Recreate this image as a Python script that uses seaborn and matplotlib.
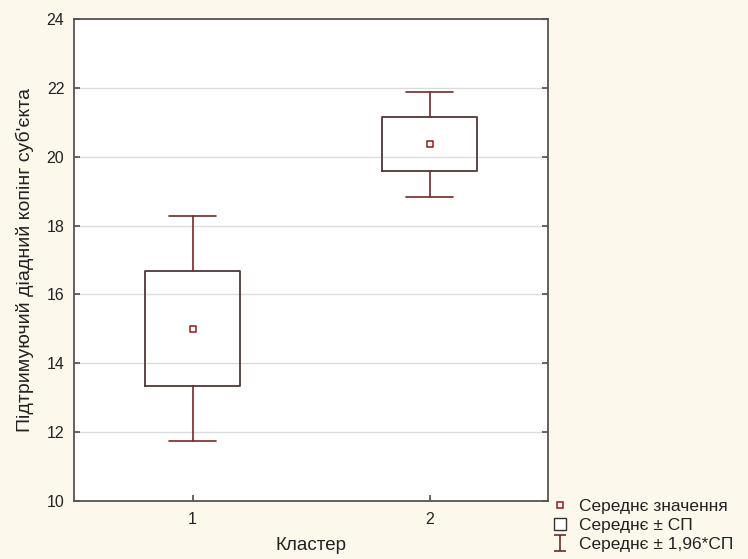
import numpy as np
import pandas as pd
import seaborn as sns
import matplotlib
matplotlib.use("Agg")
import matplotlib.pyplot as plt
from matplotlib.lines import Line2D
from matplotlib.patches import Rectangle
from matplotlib.path import Path

# Data
clusters = ["1", "2"]
means = [15.0, 20.36]
se = [1.67, 0.78]
y_ticks = [10, 12, 14, 16, 18, 20, 22, 24]
legend_labels = ["Середнє значення", "Середнє ± СП", "Середнє ± 1,96*СП"]
x_label = "Кластер"
y_label = "Підтримуючий діадний копінг суб'єкта"

sns.set_theme(style="white")
plt.rcParams['font.family'] = ['Liberation Sans', 'DejaVu Sans']

bg = "#fcf8ec"
box_col = "#4f3838"
whisk_col = "#6e2c2c"
mean_col = "#8b1e1e"

fig = plt.figure(figsize=(7.48, 5.59), dpi=100, facecolor=bg)
ax = fig.add_axes([0.099, 0.104, 0.634, 0.862])
ax.set_facecolor("white")

positions = np.arange(1, len(clusters) + 1)
stats = []
for lbl, m, s in zip(clusters, means, se):
    stats.append(dict(label=lbl, med=m, q1=m - s, q3=m + s,
                      whislo=m - 1.96 * s, whishi=m + 1.96 * s, fliers=[]))
ax.bxp(stats, positions=positions, widths=0.4, showfliers=False,
       boxprops=dict(color=box_col, linewidth=1.3),
       whiskerprops=dict(color=whisk_col, linewidth=1.2),
       capprops=dict(color=whisk_col, linewidth=1.2),
       medianprops=dict(linewidth=0), capwidths=0.2, zorder=3)

df = pd.DataFrame({"x": positions, "mean": means})
sns.scatterplot(data=df, x="x", y="mean", ax=ax, marker="s", s=22,
                facecolor="white", edgecolor=mean_col, linewidth=1.1, zorder=4)

ax.set_xlim(0.5, 2.5)
ax.set_ylim(10, 24)
ax.set_yticks(y_ticks)
ax.set_xticks(positions)
ax.set_xticklabels(clusters)
ax.yaxis.grid(True, color="#dcdcdc", linewidth=1.0, zorder=0)
ax.xaxis.grid(False)
ax.set_axisbelow(True)
for sp in ax.spines.values():
    sp.set_color("#555555")
    sp.set_linewidth(1.3)
ax.tick_params(axis="both", direction="in", length=4, color="#555555",
               labelsize=11.5, labelcolor="#222222", right=True, left=True, bottom=True)
ax.tick_params(axis="y", pad=7)
ax.tick_params(axis="x", pad=8)
ax.set_xlabel(x_label, fontsize=13.5, color="#222222", labelpad=7)
ax.set_ylabel(y_label, fontsize=14, color="#222222", labelpad=9)

# Legend
ibeam = Path([(-0.7, 1), (0.7, 1), (0, 1), (0, -1), (-0.7, -1), (0.7, -1)],
             [Path.MOVETO, Path.LINETO, Path.MOVETO, Path.LINETO, Path.MOVETO, Path.LINETO])
h1 = Line2D([], [], marker="s", linestyle="none", markersize=5,
            markerfacecolor="white", markeredgecolor=mean_col, markeredgewidth=1.1)
h2 = Rectangle((0, 0), 1, 1, facecolor="white", edgecolor="#333333", linewidth=1.0)
h3 = Line2D([], [], marker=ibeam, linestyle="none", markersize=12,
            markeredgecolor=whisk_col, markerfacecolor="none", markeredgewidth=1.2)
fig.legend([h1, h2, h3], legend_labels, loc="lower left",
           bbox_to_anchor=(0.741, 0.013), frameon=False, fontsize=12.5,
           labelspacing=0.2, handlelength=0.7, handletextpad=0.7,
           borderaxespad=0.0, borderpad=0.0, labelcolor="#222222")

fig.savefig("out.png", dpi=100, facecolor=bg)
